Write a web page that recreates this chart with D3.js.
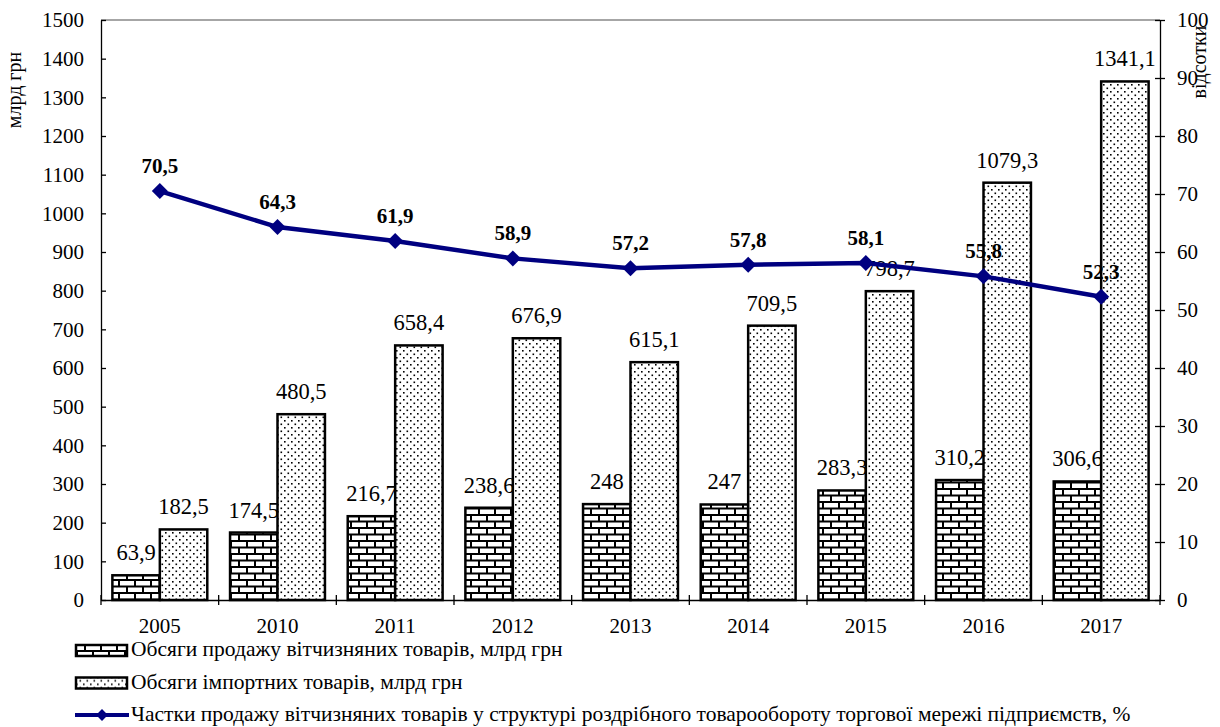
<!DOCTYPE html>
<html>
<head>
<meta charset="utf-8">
<script src="https://cdn.jsdelivr.net/npm/d3@7"></script>
<style>
  body { margin: 0; background: #fff; }
  svg text { font-family: "Times New Roman", "Liberation Serif", "DejaVu Serif", serif; }
</style>
</head>
<body>
<script>
(function (d3) {
    'use strict';

    var years = ["2005", "2010", "2011", "2012", "2013", "2014", "2015", "2016", "2017"];
    var domestic = [63.9, 174.5, 216.7, 238.6, 248, 247, 283.3, 310.2, 306.6];
    var imported = [182.5, 480.5, 658.4, 676.9, 615.1, 709.5, 798.7, 1079.3, 1341.1];
    var share = [70.5, 64.3, 61.9, 58.9, 57.2, 57.8, 58.1, 55.8, 52.3];
    var leftTicks = d3.range(0, 1501, 100);
    var rightTicks = d3.range(0, 101, 10);
    var legendLabels = [
        "Обсяги продажу вітчизняних товарів, млрд грн",
        "Обсяги імпортних товарів, млрд грн",
        "Частки продажу вітчизняних товарів у структурі роздрібного товарообороту торгової мережі підприємств, %"
    ];

    var FONT = "Times New Roman, Liberation Serif, serif";
    const margin = { top: 20, right: 60, bottom: 127, left: 101 };
    const width = 1220 - margin.left - margin.right;
    const height = 727 - margin.top - margin.bottom;

    function fmt(v) { return String(v).replace(".", ","); }

    var x = d3.scaleBand().domain(years).range([0, width]);
    var inner = d3.scaleBand().domain(["d", "i"]).range([0, x.bandwidth()]).paddingOuter(0.24);
    var y = d3.scaleLinear().domain([0, 1500]).range([height, 0]);
    var y2 = d3.scaleLinear().domain([0, 100]).range([height, 0]);

    var root = d3.select("body").append("svg")
        .attr("width", 1220)
        .attr("height", 727)
        .attr("font-family", FONT);

    var defs = root.append("defs");
    // brick pattern
    var brick = defs.append("pattern")
        .attr("id", "brick")
        .attr("patternUnits", "userSpaceOnUse")
        .attr("width", 16).attr("height", 13);
    brick.append("rect").attr("width", 16).attr("height", 13).attr("fill", "#fff");
    brick.append("path")
        .attr("d", "M0,1H16M0,7.5H16M2,1V7.5M10,7.5V13")
        .attr("stroke", "#000").attr("stroke-width", 2).attr("fill", "none");
    // dot pattern
    var dots = defs.append("pattern")
        .attr("id", "dots")
        .attr("patternUnits", "userSpaceOnUse")
        .attr("width", 7).attr("height", 7);
    dots.append("rect").attr("width", 7).attr("height", 7).attr("fill", "#fff");
    dots.append("rect").attr("x", 1).attr("y", 1).attr("width", 1.6).attr("height", 1.6).attr("fill", "#000");
    dots.append("rect").attr("x", 4.5).attr("y", 4.5).attr("width", 1.6).attr("height", 1.6).attr("fill", "#000");

    var svg = root.append("g")
        .attr("transform", "translate(" + margin.left + "," + margin.top + ")");

    // plot border top (gray)
    svg.append("line")
        .attr("x1", 0).attr("x2", width).attr("y1", 0).attr("y2", 0)
        .attr("stroke", "#888").attr("stroke-width", 1.5);

    // domestic bars
    svg.selectAll(".bar-d")
        .data(domestic)
        .enter().append("rect")
        .attr("class", "bar-d")
        .attr("x", function (d, i) { return x(years[i]) + inner("d"); })
        .attr("y", function (d) { return y(d); })
        .attr("width", inner.bandwidth())
        .attr("height", function (d) { return height - y(d); })
        .attr("fill", "url(#brick)")
        .attr("stroke", "#000").attr("stroke-width", 2.5);

    svg.selectAll(".lab-d")
        .data(domestic)
        .enter().append("text")
        .attr("x", function (d, i) { return x(years[i]) + inner("d") + inner.bandwidth() / 2; })
        .attr("y", function (d) { return y(d) - 15; })
        .attr("text-anchor", "middle")
        .attr("font-size", 22.5)
        .text(fmt);

    // imported bars
    svg.selectAll(".bar-i")
        .data(imported)
        .enter().append("rect")
        .attr("class", "bar-i")
        .attr("x", function (d, i) { return x(years[i]) + inner("i"); })
        .attr("y", function (d) { return y(d); })
        .attr("width", inner.bandwidth())
        .attr("height", function (d) { return height - y(d); })
        .attr("fill", "url(#dots)")
        .attr("stroke", "#000").attr("stroke-width", 2.5);

    svg.selectAll(".lab-i")
        .data(imported)
        .enter().append("text")
        .attr("x", function (d, i) { return x(years[i]) + inner("i") + inner.bandwidth() / 2; })
        .attr("y", function (d) { return y(d) - 15; })
        .attr("text-anchor", "middle")
        .attr("font-size", 22.5)
        .text(fmt);

    // axes
    var axL = svg.append("g")
        .call(d3.axisLeft(y).tickValues(leftTicks).tickFormat(d3.format("d"))
            .tickSizeInner(5).tickSizeOuter(0).tickPadding(12));
    axL.selectAll(".tick line").attr("x2", 5);
    var axR = svg.append("g")
        .attr("transform", "translate(" + width + ",0)")
        .call(d3.axisRight(y2).tickValues(rightTicks).tickFormat(d3.format("d"))
            .tickSizeInner(5).tickSizeOuter(0).tickPadding(12));
    axR.selectAll(".tick line").attr("x1", -5);
    var axB = svg.append("g")
        .attr("transform", "translate(0," + height + ")")
        .call(d3.axisBottom(x).tickSize(0).tickPadding(18));
    axB.selectAll(".tick line").remove();
    axB.selectAll(".sep")
        .data(years.concat(["end"]))
        .enter().append("line")
        .attr("x1", function (d, i) { return i * x.step(); })
        .attr("x2", function (d, i) { return i * x.step(); })
        .attr("y1", -5).attr("y2", 5)
        .attr("stroke", "#000");
    [axL, axR, axB].forEach(function (a) {
        a.attr("font-family", FONT).attr("font-size", 21);
        a.selectAll("text").attr("fill", "#000");
        a.selectAll("path, line").attr("stroke", "#000").attr("stroke-width", 1.3);
    });

    // axis titles
    root.append("text")
        .attr("transform", "translate(21,90) rotate(-90)")
        .attr("text-anchor", "middle")
        .attr("font-size", 20)
        .text("млрд грн");
    root.append("text")
        .attr("transform", "translate(1206,62) rotate(-90)")
        .attr("text-anchor", "middle")
        .attr("font-size", 20)
        .text("відсотки");

    // share line
    var line = d3.line()
        .x(function (d, i) { return x(years[i]) + x.bandwidth() / 2; })
        .y(function (d) { return y2(d); });
    svg.append("path")
        .datum(share)
        .attr("d", line)
        .attr("fill", "none")
        .attr("stroke", "#000080")
        .attr("stroke-width", 4.5);
    svg.selectAll(".pt")
        .data(share)
        .enter().append("path")
        .attr("d", d3.symbol().type(d3.symbolSquare).size(128))
        .attr("transform", function (d, i) {
            return "translate(" + (x(years[i]) + x.bandwidth() / 2) + "," + y2(d) + ") rotate(45)";
        })
        .attr("fill", "#000080");
    svg.selectAll(".lab-s")
        .data(share)
        .enter().append("text")
        .attr("x", function (d, i) { return x(years[i]) + x.bandwidth() / 2; })
        .attr("y", function (d) { return y2(d) - 18; })
        .attr("text-anchor", "middle")
        .attr("font-size", 21)
        .attr("font-weight", "bold")
        .text(fmt);

    // legend
    var legend = root.append("g")
        .selectAll("g")
        .data(legendLabels)
        .enter().append("g")
        .attr("transform", function (d, i) { return "translate(75," + (650 + i * 32.5) + ")"; });

    legend.filter(function (d, i) { return i < 2; })
        .append("rect")
        .attr("x", 1).attr("y", -5)
        .attr("width", 51).attr("height", 11)
        .attr("fill", function (d, i) { return i === 0 ? "url(#brick)" : "url(#dots)"; })
        .attr("stroke", "#000").attr("stroke-width", 2.5);

    legend.filter(function (d, i) { return i === 2; })
        .call(function (g) {
            g.append("line")
                .attr("x1", 0).attr("x2", 54).attr("y1", 0).attr("y2", 0)
                .attr("stroke", "#000080").attr("stroke-width", 4);
            g.append("path")
                .attr("d", d3.symbol().type(d3.symbolSquare).size(70))
                .attr("transform", "translate(27,0) rotate(45)")
                .attr("fill", "#000080");
        });

    legend.append("text")
        .attr("x", 56)
        .attr("y", 0)
        .attr("dy", "0.3em")
        .attr("font-size", 21.5)
        .text(function (d) { return d; });

})(d3);
</script>
</body>
</html>
